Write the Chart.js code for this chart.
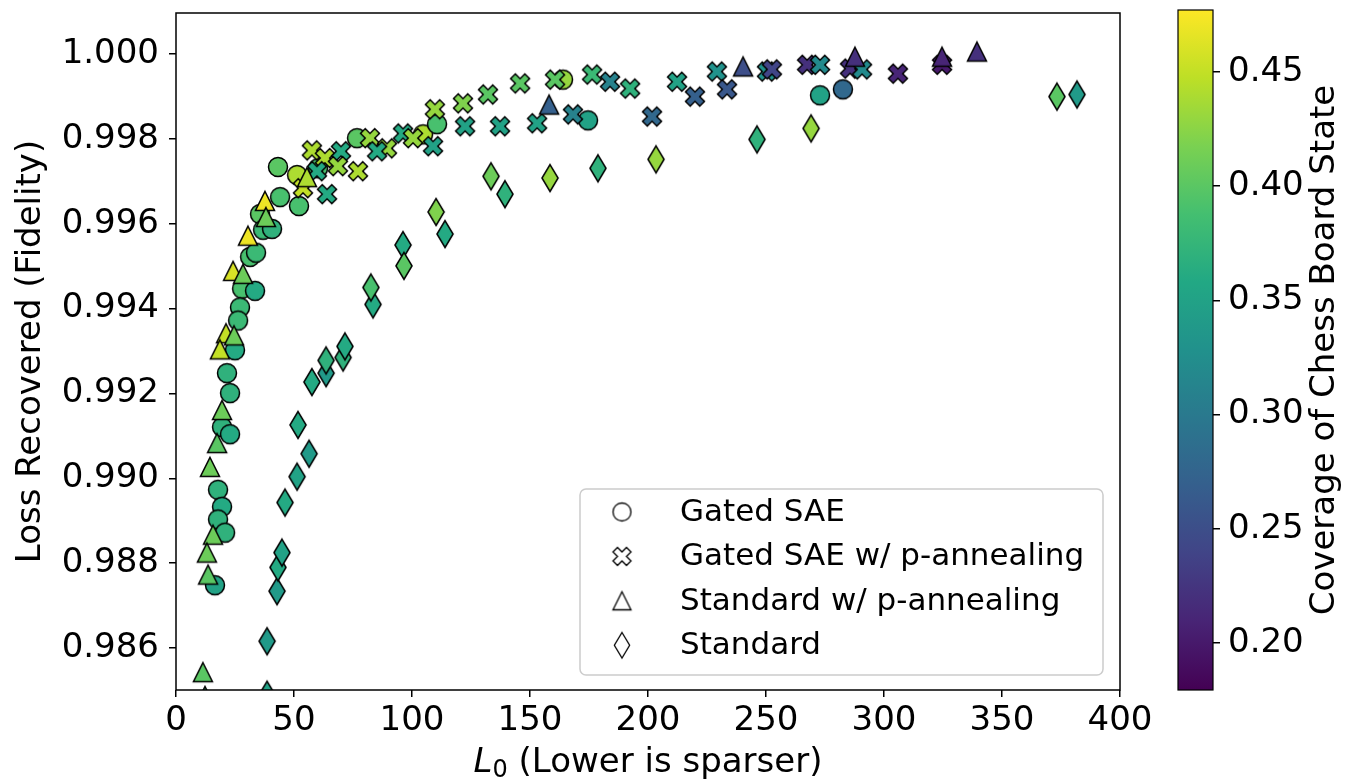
<!DOCTYPE html>
<html>
<head>
<meta charset="utf-8">
<script src="https://cdn.jsdelivr.net/npm/chart.js@4.4.1/dist/chart.umd.min.js"></script>
<style>
  html, body { margin: 0; padding: 0; background: #fff; }
  #wrap { position: relative; width: 1348px; height: 781px; }
  .box { position: absolute; top: 0; height: 781px; }
</style>
</head>
<body>
<div id="wrap">
  <div class="box" style="left:0;width:1160px"><canvas id="main"></canvas></div>
  <div class="box" style="left:1160px;width:188px"><canvas id="cbar"></canvas></div>
</div>
<script>
// ---- data ----
var seriesNames = ['Gated SAE', 'Gated SAE w/ p-annealing', 'Standard w/ p-annealing', 'Standard'];

var gatedL0  = [43.2, 51.3, 44.1, 52.1, 35.6, 36.9, 40.7, 31.4, 33.9, 28.0, 33.5, 27.1, 26.3, 25.0, 21.6, 22.9,
                19.5, 22.9, 17.8, 19.5, 17.8, 20.8, 16.5, 76.7, 60.2, 104.7, 110.6, 164.0, 174.6, 272.9, 282.6];
var gatedLR  = [0.99734, 0.99715, 0.99663, 0.99642, 0.99623, 0.99586, 0.99588, 0.99522, 0.99532, 0.99447, 0.99442,
                0.99403, 0.99372, 0.99302, 0.99248, 0.99201, 0.99121, 0.99104, 0.98973, 0.98933, 0.98903, 0.98872,
                0.98748, 0.99802, 0.99731, 0.99811, 0.99835, 0.99940, 0.99844, 0.99903, 0.99917];
var gatedCov = [0.40, 0.44, 0.39, 0.39, 0.40, 0.38, 0.37, 0.39, 0.38, 0.39, 0.36, 0.38, 0.38, 0.36, 0.37, 0.37,
                0.37, 0.36, 0.37, 0.36, 0.37, 0.37, 0.35, 0.40, 0.39, 0.44, 0.39, 0.43, 0.35, 0.35, 0.28];

var gatedPL0  = [57.6, 63.1, 69.9, 68.6, 77.1, 82.2, 89.4, 85.2, 96.2, 100.4, 108.9, 109.7, 64.0, 59.7, 121.6, 122.5,
                 132.2, 137.3, 145.8, 153.0, 160.6, 168.2, 176.3, 183.9, 192.4, 201.7, 212.3, 219.9, 229.2, 233.5,
                 250.4, 252.5, 267.4, 272.9, 285.6, 290.7, 305.9, 324.6, 53.8];
var gatedPLR  = [0.99773, 0.99755, 0.99771, 0.99736, 0.99724, 0.99802, 0.99778, 0.99771, 0.99813, 0.99802, 0.99783,
                 0.99870, 0.99670, 0.99724, 0.99884, 0.99830, 0.99905, 0.99830, 0.99931, 0.99837, 0.99940, 0.99858,
                 0.99952, 0.99935, 0.99919, 0.99853, 0.99935, 0.99900, 0.99959, 0.99917, 0.99959, 0.99964, 0.99975,
                 0.99975, 0.99966, 0.99964, 0.99954, 0.99975, 0.99684];
var gatedPCov = [0.44, 0.44, 0.36, 0.43, 0.44, 0.43, 0.43, 0.36, 0.36, 0.43, 0.35, 0.43, 0.36, 0.36, 0.42, 0.35,
                 0.40, 0.35, 0.40, 0.35, 0.40, 0.31, 0.38, 0.31, 0.37, 0.28, 0.35, 0.27, 0.33, 0.26, 0.33, 0.24,
                 0.22, 0.32, 0.22, 0.32, 0.21, 0.20, 0.45];

var stdPL0  = [37.7, 38.1, 30.5, 24.2, 28.4, 21.2, 24.6, 18.6, 19.5, 17.4, 14.4, 15.7, 13.1, 13.6, 11.4, 12.3,
               55.5, 158.1, 240.3, 287.7, 324.6, 339.4];
var stdPLR  = [0.99654, 0.99616, 0.99572, 0.99489, 0.99482, 0.99342, 0.99337, 0.99304, 0.99161, 0.99083, 0.99027,
               0.98867, 0.98825, 0.98773, 0.98543, 0.98487, 0.99710, 0.99881, 0.99971, 0.99994, 0.99994, 1.00006];
var stdPCov = [0.47, 0.41, 0.47, 0.46, 0.41, 0.45, 0.41, 0.45, 0.41, 0.40, 0.41, 0.41, 0.41, 0.40, 0.40, 0.38,
               0.44, 0.27, 0.25, 0.22, 0.21, 0.22];

var stdL0  = [38.6, 38.6, 42.8, 43.2, 44.9, 46.2, 51.3, 56.4, 51.7, 57.6, 63.6, 63.6, 70.8, 71.6, 83.5, 82.6,
              96.2, 96.6, 110.2, 114.0, 133.5, 139.4, 158.5, 178.8, 203.4, 246.2, 269.1, 373.3, 381.8];
var stdLR  = [0.98490, 0.98616, 0.98734, 0.98790, 0.98825, 0.98943, 0.99004, 0.99058, 0.99126, 0.99227, 0.99248,
              0.99278, 0.99285, 0.99311, 0.99410, 0.99450, 0.99550, 0.99501, 0.99628, 0.99576, 0.99712, 0.99670,
              0.99708, 0.99731, 0.99752, 0.99799, 0.99825, 0.99900, 0.99905];
var stdCov = [0.35, 0.34, 0.34, 0.36, 0.35, 0.36, 0.35, 0.34, 0.36, 0.36, 0.34, 0.37, 0.37, 0.36, 0.36, 0.39,
              0.36, 0.40, 0.42, 0.36, 0.41, 0.37, 0.43, 0.37, 0.43, 0.37, 0.43, 0.40, 0.34];

var xTicks  = [0, 50, 100, 150, 200, 250, 300, 350, 400];
var yTicks  = [0.986, 0.988, 0.990, 0.992, 0.994, 0.996, 0.998, 1.000];
var cbTicks = [0.20, 0.25, 0.30, 0.35, 0.40, 0.45];
var covMin = 0.1794, covMax = 0.4771;
var yMin = 0.98501, yMax = 1.00097;

// ---- helpers ----
var FONT = 'DejaVu Sans';
Chart.defaults.font.family = FONT;
Chart.defaults.color = '#000';

var viridis = [[68,1,84],[72,36,117],[65,68,135],[53,95,141],[42,120,142],[33,145,140],
               [34,168,132],[68,191,112],[122,209,81],[189,223,38],[253,231,37]];

function cmap(c) {
  var t = (c - covMin) / (covMax - covMin);
  t = Math.max(0, Math.min(1, t)) * 10;
  var i = Math.min(9, Math.floor(t)), f = t - i;
  var a = viridis[i], b = viridis[i + 1];
  return 'rgb(' + Math.round(a[0] + (b[0] - a[0]) * f) + ',' +
                  Math.round(a[1] + (b[1] - a[1]) * f) + ',' +
                  Math.round(a[2] + (b[2] - a[2]) * f) + ')';
}

var markerCache = {};
function marker(shape, fill, size, lw) {
  var key = shape + '|' + fill + '|' + size + '|' + lw;
  if (markerCache[key]) return markerCache[key];
  var w = size, h = size;
  if (shape === 'thinDiamond') { w = size * 0.849; h = size * 1.414; }
  var cw = Math.ceil(w + lw * 2 + 2), ch = Math.ceil(h + lw * 2 + 2);
  var cv = document.createElement('canvas');
  cv.width = cw; cv.height = ch;
  var g = cv.getContext('2d');
  g.translate(cw / 2, ch / 2);
  g.beginPath();
  if (shape === 'x') {
    var pts = [[-1,-2],[0,-1],[1,-2],[2,-1],[1,0],[2,1],[1,2],[0,1],[-1,2],[-2,1],[-1,0],[-2,-1]];
    pts.forEach(function (p, i) {
      var px = p[0] * size / 4, py = p[1] * size / 4;
      if (i) g.lineTo(px, py); else g.moveTo(px, py);
    });
  } else if (shape === 'triangle') {
    g.moveTo(0, -h / 2); g.lineTo(w / 2, h / 2); g.lineTo(-w / 2, h / 2);
  } else if (shape === 'thinDiamond') {
    g.moveTo(0, -h / 2); g.lineTo(w / 2, 0); g.lineTo(0, h / 2); g.lineTo(-w / 2, 0);
  } else {
    g.arc(0, 0, size / 2, 0, Math.PI * 2);
  }
  g.closePath();
  g.fillStyle = fill; g.fill();
  g.lineWidth = lw; g.strokeStyle = '#000'; g.stroke();
  markerCache[key] = cv;
  return cv;
}

var MS = 19;
var shapes = ['circle', 'x', 'triangle', 'thinDiamond'];

function makeSet(i, xs, ys, cov, order) {
  return {
    label: seriesNames[i],
    data: xs.map(function (x, k) { return { x: x, y: ys[k] }; }),
    pointStyle: cov.map(function (c) { return marker(shapes[i], cmap(c), MS, 1.5); }),
    pointRadius: 12,
    clip: 0,
    order: order
  };
}

// ---- plugins ----
var framePlugin = {
  id: 'frame',
  afterDatasetsDraw: function (chart) {
    var a = chart.chartArea, ctx = chart.ctx;
    ctx.save();
    ctx.strokeStyle = '#000'; ctx.lineWidth = 1.5;
    ctx.strokeRect(a.left, a.top, a.right - a.left, a.bottom - a.top);
    ctx.restore();
  }
};

var legendPlugin = {
  id: 'boxLegend',
  afterDraw: function (chart) {
    var a = chart.chartArea, ctx = chart.ctx;
    var bw = 523, bh = 186;
    var x0 = a.right - 17 - bw, y0 = a.bottom - 15 - bh, r = 6;
    ctx.save();
    ctx.beginPath();
    ctx.moveTo(x0 + r, y0);
    ctx.arcTo(x0 + bw, y0, x0 + bw, y0 + bh, r);
    ctx.arcTo(x0 + bw, y0 + bh, x0, y0 + bh, r);
    ctx.arcTo(x0, y0 + bh, x0, y0, r);
    ctx.arcTo(x0, y0, x0 + bw, y0, r);
    ctx.closePath();
    ctx.fillStyle = 'rgba(255,255,255,0.8)'; ctx.fill();
    ctx.strokeStyle = '#cccccc'; ctx.lineWidth = 1.5; ctx.stroke();
    ctx.font = '31px "' + FONT + '"';
    ctx.textBaseline = 'middle';
    ctx.fillStyle = '#000';
    seriesNames.forEach(function (name, i) {
      var cy = y0 + 23 + i * 44.4;
      var m = marker(shapes[i], '#fff', 18, 1.3);
      ctx.drawImage(m, x0 + 42 - m.width / 2, cy - m.height / 2);
      ctx.fillText(name, x0 + 100, cy + 1);
    });
    ctx.restore();
  }
};

var xTitlePlugin = {
  id: 'xTitle',
  afterDraw: function (chart) {
    var a = chart.chartArea, ctx = chart.ctx;
    var cx = (a.left + a.right) / 2, cy = 763;
    var big = '34px "' + FONT + '"', ital = 'italic 34px "' + FONT + '"', sub = '24px "' + FONT + '"';
    var rest = ' (Lower is sparser)';
    ctx.save();
    ctx.textBaseline = 'middle';
    ctx.fillStyle = '#000';
    ctx.font = ital; var wL = ctx.measureText('L').width;
    ctx.font = sub;  var w0 = ctx.measureText('0').width;
    ctx.font = big;  var wR = ctx.measureText(rest).width;
    var x = cx - (wL + w0 + wR) / 2;
    ctx.font = ital; ctx.fillText('L', x, cy); x += wL;
    ctx.font = sub;  ctx.fillText('0', x, cy + 8); x += w0;
    ctx.font = big;  ctx.fillText(rest, x, cy);
    ctx.restore();
  }
};

var cbarPlugin = {
  id: 'cbarFill',
  afterDraw: function (chart) {
    var a = chart.chartArea, ctx = chart.ctx;
    ctx.save();
    var grad = ctx.createLinearGradient(0, a.bottom, 0, a.top);
    viridis.forEach(function (c, i) { grad.addColorStop(i / 10, 'rgb(' + c.join(',') + ')'); });
    ctx.fillStyle = grad;
    ctx.fillRect(a.left, a.top, a.right - a.left, a.bottom - a.top);
    ctx.strokeStyle = '#000'; ctx.lineWidth = 1.2;
    ctx.strokeRect(a.left, a.top, a.right - a.left, a.bottom - a.top);
    ctx.translate(165, (a.top + a.bottom) / 2);
    ctx.rotate(-Math.PI / 2);
    ctx.font = '34px "' + FONT + '"';
    ctx.textAlign = 'center'; ctx.textBaseline = 'middle';
    ctx.fillStyle = '#000';
    ctx.fillText('Coverage of Chess Board State', 0, 0);
    ctx.restore();
  }
};

// ---- main chart ----
new Chart(document.getElementById('main'), {
  type: 'scatter',
  data: {
    datasets: [
      makeSet(0, gatedL0, gatedLR, gatedCov, 4),
      makeSet(1, gatedPL0, gatedPLR, gatedPCov, 3),
      makeSet(2, stdPL0, stdPLR, stdPCov, 2),
      makeSet(3, stdL0, stdLR, stdCov, 1)
    ]
  },
  options: {
    responsive: true,
    maintainAspectRatio: false,
    animation: false,
    events: [],
    layout: { padding: { left: 0, top: 11, right: 40, bottom: 0 } },
    plugins: { legend: { display: false }, tooltip: { enabled: false } },
    scales: {
      x: {
        type: 'linear', min: 0, max: 400,
        afterBuildTicks: function (s) { s.ticks = xTicks.map(function (v) { return { value: v }; }); },
        afterFit: function (s) { s.height = 91; s.paddingLeft = 0; s.paddingRight = 0; },
        grid: { drawOnChartArea: false, color: '#000', lineWidth: 1.5, tickLength: 7 },
        border: { display: false },
        ticks: { autoSkip: false, maxRotation: 0, padding: 4, font: { size: 34 },
                 callback: function (v) { return String(v); } }
      },
      y: {
        type: 'linear', min: yMin, max: yMax,
        afterBuildTicks: function (s) { s.ticks = yTicks.map(function (v) { return { value: v }; }); },
        afterFit: function (s) { s.width = 176; s.paddingTop = 0; s.paddingBottom = 0; },
        grid: { drawOnChartArea: false, color: '#000', lineWidth: 1.5, tickLength: 7 },
        border: { display: false },
        ticks: { autoSkip: false, padding: 10, font: { size: 34 },
                 callback: function (v) { return v.toFixed(3); } },
        title: { display: true, text: 'Loss Recovered (Fidelity)', font: { size: 34 },
                 padding: { top: 11, bottom: 0 } }
      }
    }
  },
  plugins: [framePlugin, legendPlugin, xTitlePlugin]
});

// ---- colour bar ----
new Chart(document.getElementById('cbar'), {
  type: 'scatter',
  data: { datasets: [] },
  options: {
    responsive: true,
    maintainAspectRatio: false,
    animation: false,
    events: [],
    layout: { padding: { left: 18, top: 10, right: 0, bottom: 91 } },
    plugins: { legend: { display: false }, tooltip: { enabled: false } },
    scales: {
      x: { display: false, min: 0, max: 1 },
      y: {
        position: 'right', min: covMin, max: covMax,
        afterBuildTicks: function (s) { s.ticks = cbTicks.map(function (v) { return { value: v }; }); },
        afterFit: function (s) { s.width = 135; s.paddingTop = 0; s.paddingBottom = 0; },
        grid: { drawOnChartArea: false, color: '#000', lineWidth: 1.5, tickLength: 7 },
        border: { display: false },
        ticks: { autoSkip: false, padding: 8, font: { size: 34 },
                 callback: function (v) { return v.toFixed(2); } }
      }
    }
  },
  plugins: [cbarPlugin]
});
</script>
</body>
</html>
